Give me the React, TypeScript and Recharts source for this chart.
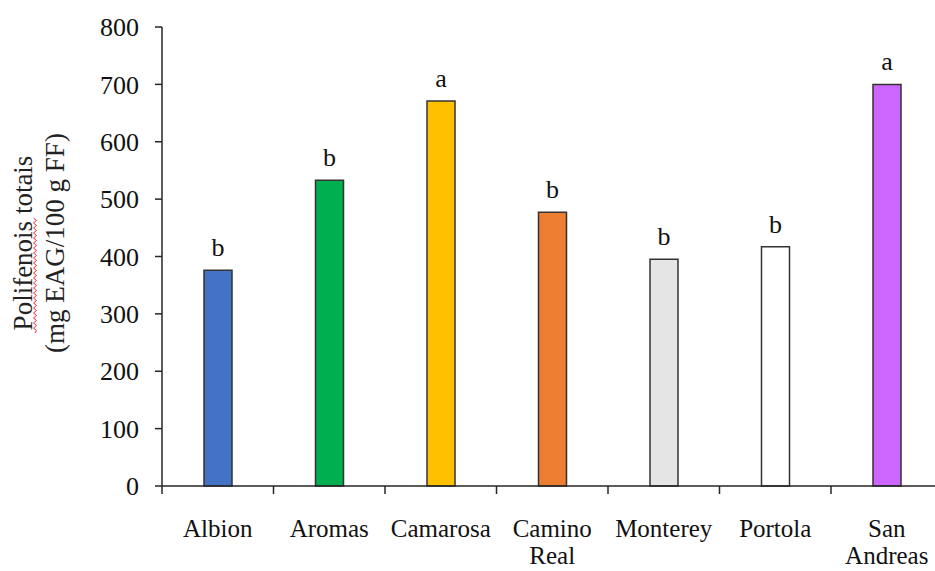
import { BarChart, Bar, XAxis, YAxis, Cell, LabelList } from 'recharts'

const cultivars = ['Albion', 'Aromas', 'Camarosa', 'Camino Real', 'Monterey', 'Portola', 'San Andreas']
const polyphenols = [376, 533, 671, 477, 395, 417, 700]
const groups = ['b', 'b', 'a', 'b', 'b', 'b', 'a']
const barColors = ['#4472C4', '#00B050', '#FFC000', '#ED7D31', '#E5E5E5', '#FFFFFF', '#CC66FF']
const yTicks = [0, 100, 200, 300, 400, 500, 600, 700, 800]

// multi-line category labels, as in the original figure
const tickLines: Record<string, string[]> = {
  'Camino Real': ['Camino', 'Real'],
  'San Andreas': ['San', 'Andreas'],
}

const data = cultivars.map((name, i) => ({ name, value: polyphenols[i], group: groups[i] }))

const CHART_W = 945
const CHART_H = 571
const Y_AXIS_W = 162
const MARGIN = { top: 27, right: 2.5, bottom: 0, left: 0 }
const BAND = (CHART_W - Y_AXIS_W - MARGIN.left - MARGIN.right) / cultivars.length
const FONT = '"Liberation Serif", "Times New Roman", serif'
const AXIS = '#262626'

function CategoryTick(props: any) {
  const { x, y, payload } = props
  const lines = tickLines[payload.value] ?? [payload.value]
  return (
    <g>
      {/* tick marks sit on the category boundaries, not the centres */}
      <line x1={x - BAND / 2} x2={x - BAND / 2} y1={y} y2={y + 8} stroke={AXIS} strokeWidth={1.5} />
      <text x={x} y={y + 51} textAnchor="middle" fontFamily={FONT} fontSize={25} fill="#111">
        {lines.map((l, i) => (
          <tspan key={i} x={x} dy={i === 0 ? 0 : 27}>{l}</tspan>
        ))}
      </text>
    </g>
  )
}

// spell-checker squiggle under "lifenois", like the screenshot
function squiggle(x: number, y0: number, y1: number) {
  let d = `M${x},${y0}`
  let side = 1
  for (let y = y0 - 2.5; y >= y1; y -= 2.5) {
    d += ` L${x + side * 1.5},${y}`
    side = -side
  }
  return d
}

function YTitle() {
  const cy = 243
  return (
    <g fontFamily={FONT} fontSize={27} fill="#222">
      <text x={32} y={cy} textAnchor="middle" transform={`rotate(-90 32 ${cy})`}>
        Polifenois totais
      </text>
      <path d={squiggle(35, 333, 218)} stroke="#ff2a2a" strokeWidth={1} fill="none" />
      <text x={64} y={cy} textAnchor="middle" transform={`rotate(-90 64 ${cy})`}>
        (mg EAG/100 g FF)
      </text>
    </g>
  )
}

export default function App() {
  return (
    <div style={{
      position: 'absolute', left: 0, top: 0, width: 935, height: 571,
      overflow: 'hidden', background: '#fff',
    }}>
      <BarChart width={CHART_W} height={CHART_H} data={data} margin={MARGIN} barSize={28}>
        <XAxis
          dataKey="name"
          interval={0}
          tick={<CategoryTick />}
          tickLine={false}
          tickSize={0}
          tickMargin={0}
          height={85}
          axisLine={{ stroke: AXIS, strokeWidth: 1.5 }}
        />
        <YAxis
          width={Y_AXIS_W}
          domain={[0, 800]}
          ticks={yTicks}
          interval={0}
          tickSize={7}
          tickMargin={16}
          axisLine={{ stroke: AXIS, strokeWidth: 1.5 }}
          tickLine={{ stroke: AXIS, strokeWidth: 1.5 }}
          tick={{ fontFamily: FONT, fontSize: 26, fill: '#111' }}
          label={{ content: () => <YTitle /> }}
        />
        <Bar dataKey="value" stroke="#333" strokeWidth={1.5} isAnimationActive={false}>
          {data.map((d, i) => (
            <Cell key={d.name} fill={barColors[i]} />
          ))}
          <LabelList
            dataKey="group"
            position="top"
            offset={14}
            style={{ fontFamily: FONT, fontSize: 26, fill: '#111' }}
          />
        </Bar>
      </BarChart>
    </div>
  )
}
